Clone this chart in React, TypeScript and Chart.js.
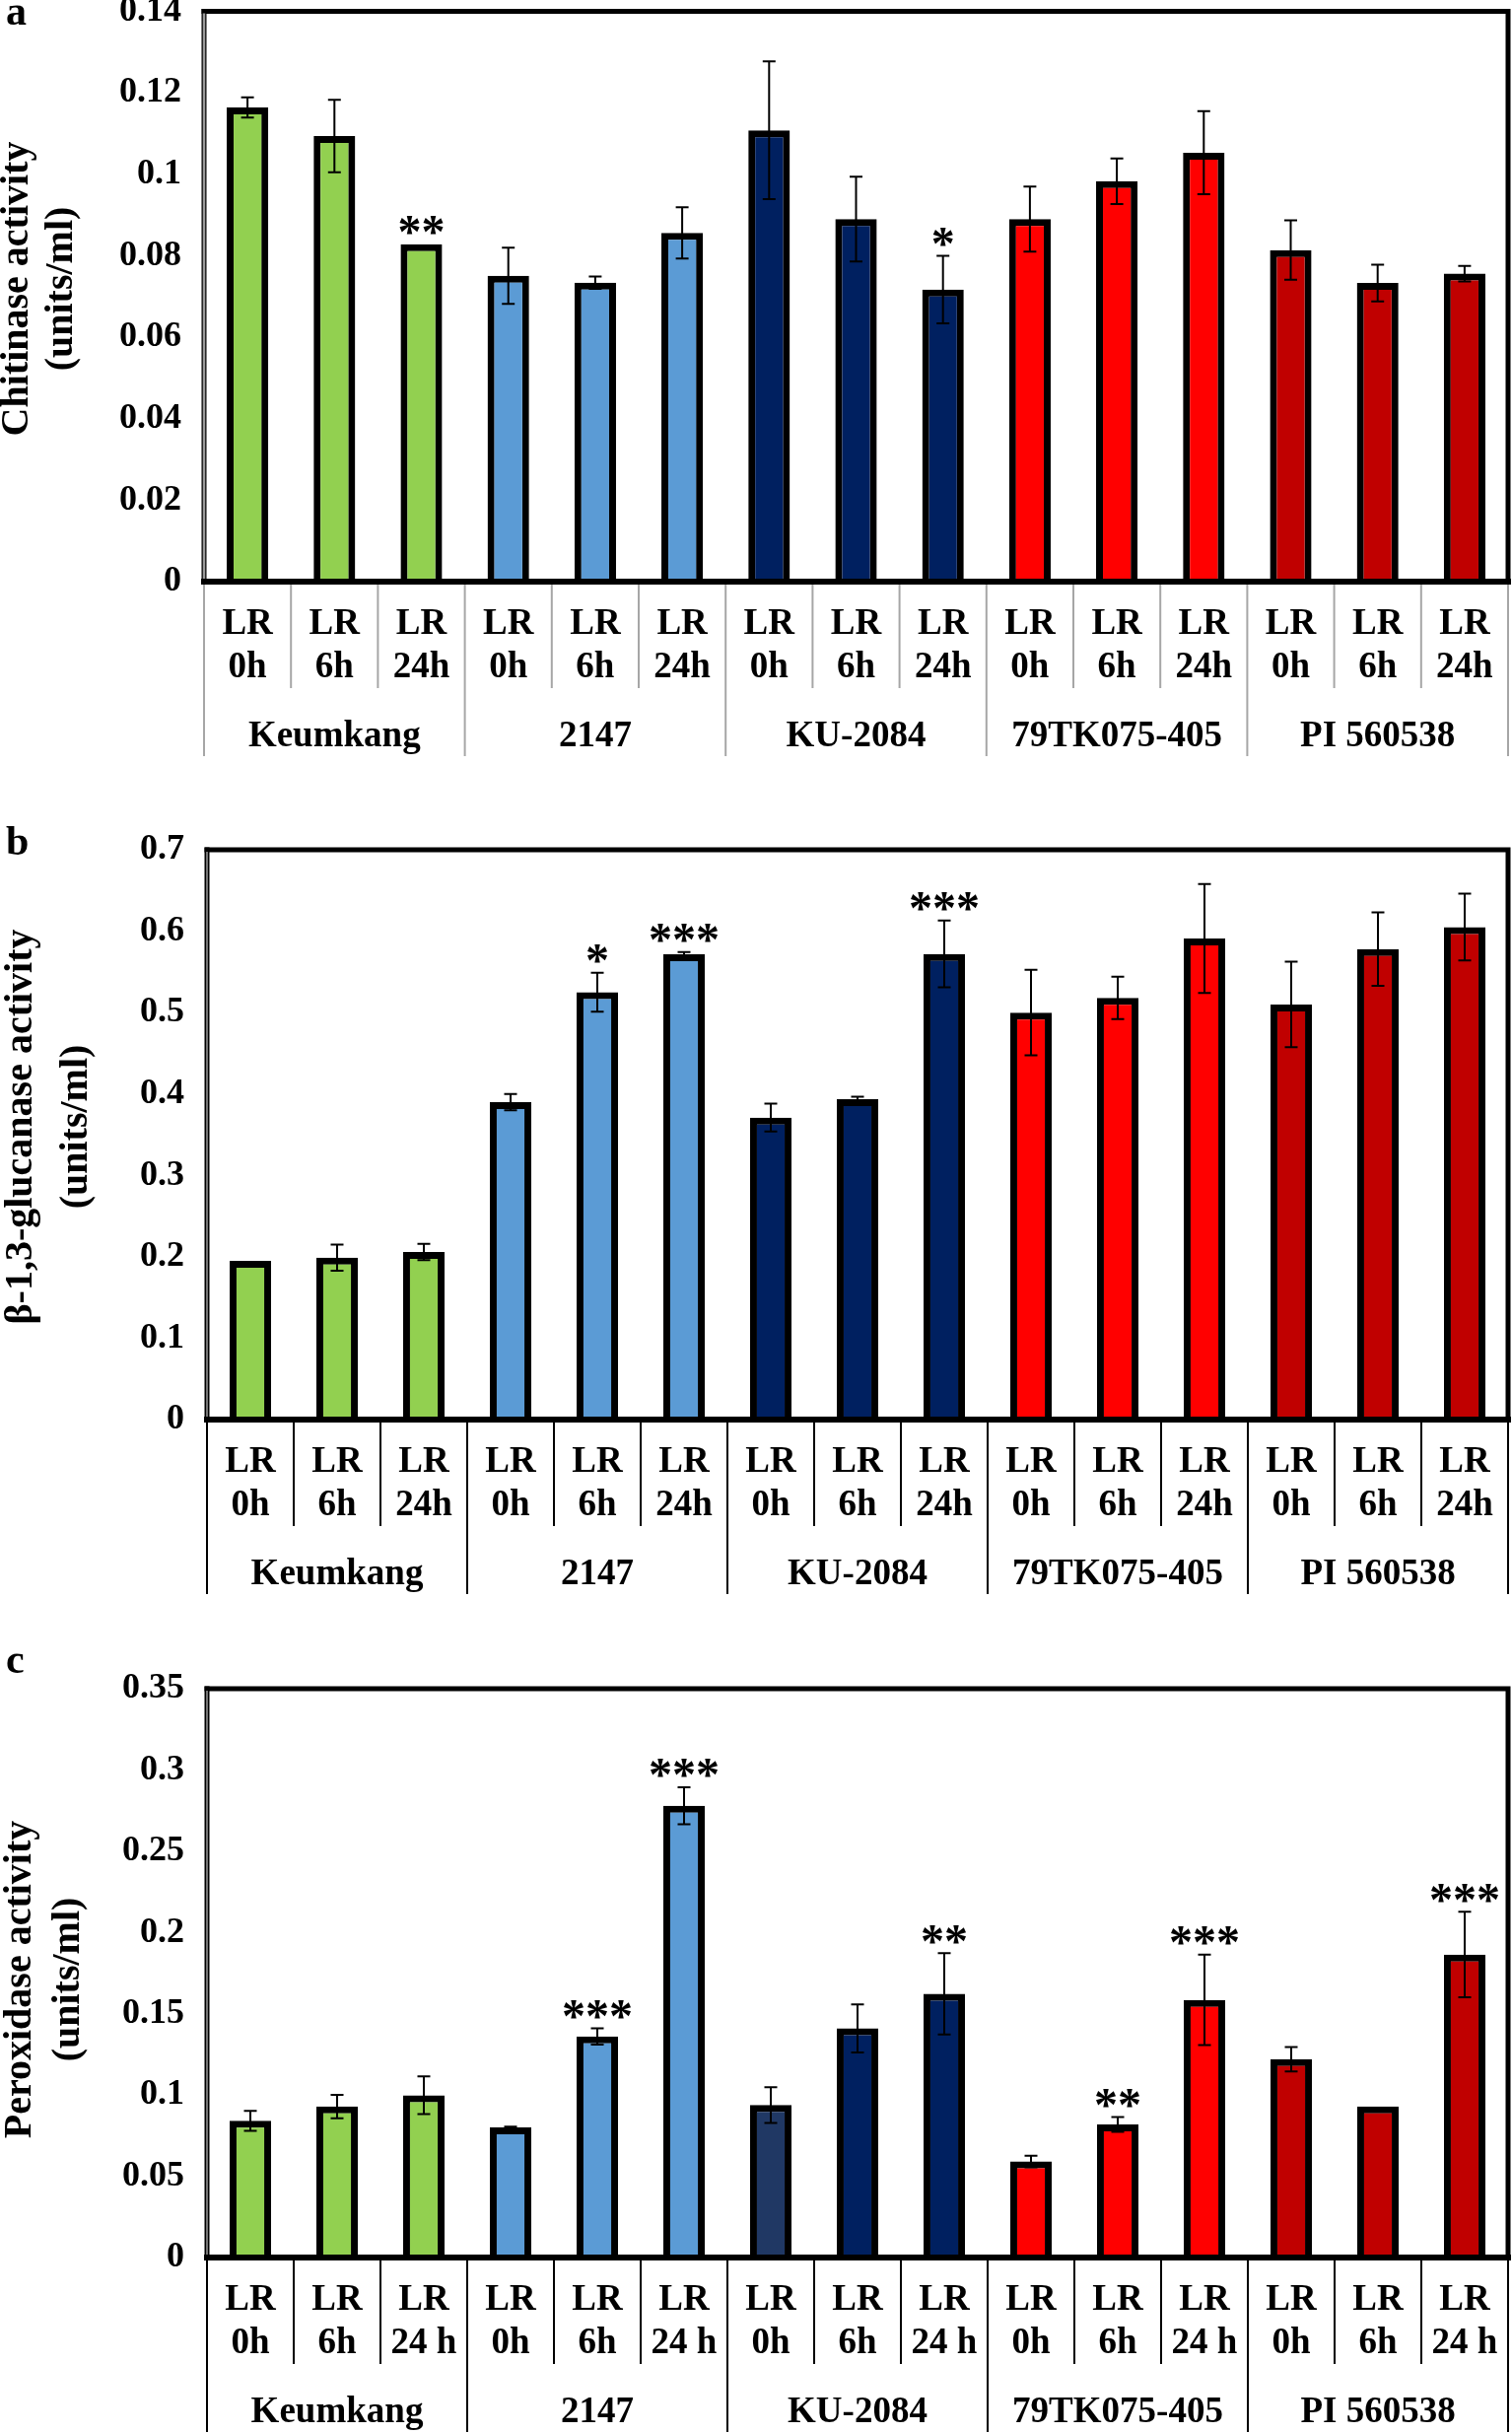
import React, { useEffect, useRef } from 'react';
import { Chart, registerables } from 'chart.js';

Chart.register(...registerables);

// ---------- data ----------
const groups = ['Keumkang', '2147', 'KU-2084', '79TK075-405', 'PI 560538'];
const timesAB = ['0h', '6h', '24h'];
const timesC = ['0h', '6h', '24 h'];
const groupColors = ['#92D050', '#5B9BD5', '#002060', '#FF0000', '#C00000'];

const chitinaseTicks = [0, 0.02, 0.04, 0.06, 0.08, 0.1, 0.12, 0.14];
const chitinaseMeans = [0.1164, 0.1094, 0.0828, 0.0751, 0.0734, 0.0856, 0.1108, 0.089, 0.0717, 0.089, 0.0983, 0.1053, 0.0814, 0.0733, 0.0756];
const chitinaseErrors = [0.0025, 0.0089, 0, 0.0069, 0.0015, 0.0063, 0.0169, 0.0104, 0.0083, 0.008, 0.0056, 0.0102, 0.0073, 0.0045, 0.0019];
const chitinaseStars = ['', '', '**', '', '', '', '', '', '*', '', '', '', '', '', ''];

const glucanaseTicks = [0, 0.1, 0.2, 0.3, 0.4, 0.5, 0.6, 0.7];
const glucanaseMeans = [0.195, 0.199, 0.206, 0.39, 0.525, 0.5715, 0.371, 0.3935, 0.572, 0.5, 0.518, 0.591, 0.51, 0.578, 0.605];
const glucanaseErrors = [0, 0.016, 0.01, 0.01, 0.024, 0.003, 0.017, 0.003, 0.041, 0.0525, 0.026, 0.067, 0.0525, 0.045, 0.041];
const glucanaseStars = ['', '', '', '', '*', '***', '', '', '***', '', '', '', '', '', ''];

const peroxidaseTicks = [0, 0.05, 0.1, 0.15, 0.2, 0.25, 0.3, 0.35];
const peroxidaseMeans = [0.0841, 0.0929, 0.0998, 0.08, 0.136, 0.278, 0.0938, 0.141, 0.1623, 0.0591, 0.0819, 0.1585, 0.122, 0.0929, 0.1864];
const peroxidaseErrors = [0.0062, 0.0072, 0.0116, 0.0005, 0.005, 0.0114, 0.011, 0.0148, 0.025, 0.0036, 0.0045, 0.0278, 0.0075, 0, 0.0263];
const peroxidaseStars = ['', '', '', '', '***', '***', '', '', '**', '', '**', '***', '', '', '***'];

const FONT = '"Liberation Serif", "Times New Roman", serif';

type PanelCfg = {
  letter: string;
  titleLines: string[];
  times: string[];
  ticks: number[];
  means: number[];
  errors: number[];
  stars: string[];
  colors: string[];
  top: number;
  height: number;
  area: { l: number; t: number; r: number; b: number };
  titleX: number[];
  titleY: number;
  letterBase: number;
  sepColor: string;
  leftInner: string;
  leftInnerW: number;
};

const colorsFor = (override?: { [k: number]: string }) => {
  const out: string[] = [];
  groupColors.forEach((c) => out.push(c, c, c));
  if (override) Object.keys(override).forEach((k) => (out[+k] = override[+k]));
  return out;
};

const panels: PanelCfg[] = [
  {
    letter: 'a',
    titleLines: ['Chitinase activity', '(units/ml)'],
    times: timesAB,
    ticks: chitinaseTicks,
    means: chitinaseMeans,
    errors: chitinaseErrors,
    stars: chitinaseStars,
    colors: colorsFor(),
    top: 0,
    height: 790,
    area: { l: 207, t: 11.5, r: 1530, b: 590 },
    titleX: [18, 63],
    titleY: 293,
    letterBase: 25,
    sepColor: '#a6a6a6',
    leftInner: '#9a9a9a',
    leftInnerW: 2.5,
  },
  {
    letter: 'b',
    titleLines: ['β-1,3-glucanase activity', '(units/ml)'],
    times: timesAB,
    ticks: glucanaseTicks,
    means: glucanaseMeans,
    errors: glucanaseErrors,
    stars: glucanaseStars,
    colors: colorsFor(),
    top: 800,
    height: 830,
    area: { l: 210, t: 62, r: 1530, b: 640 },
    titleX: [22, 78],
    titleY: 343,
    letterBase: 67,
    sepColor: '#000000',
    leftInner: '#9a9a9a',
    leftInnerW: 1.5,
  },
  {
    letter: 'c',
    titleLines: ['Peroxidase activity', '(units/ml)'],
    times: timesC,
    ticks: peroxidaseTicks,
    means: peroxidaseMeans,
    errors: peroxidaseErrors,
    stars: peroxidaseStars,
    colors: colorsFor({ 6: '#203864' }),
    top: 1640,
    height: 828,
    area: { l: 210, t: 73, r: 1530, b: 650 },
    titleX: [21, 70],
    titleY: 368,
    letterBase: 57,
    sepColor: '#000000',
    leftInner: '#9a9a9a',
    leftInnerW: 1.5,
  },
];

const W = 1534;

function makeDecor(cfg: PanelCfg) {
  return {
    id: 'decor_' + cfg.letter,
    afterDatasetsDraw(chart: any) {
      const ctx: CanvasRenderingContext2D = chart.ctx;
      const { left, right, top, bottom } = chart.chartArea;
      const ys = chart.scales.y;
      const meta = chart.getDatasetMeta(0);
      ctx.save();
      // frame
      ctx.strokeStyle = '#000';
      ctx.lineCap = 'square';
      ctx.lineWidth = 5;
      ctx.beginPath();
      ctx.moveTo(left, top);
      ctx.lineTo(right, top);
      ctx.lineTo(right, bottom);
      ctx.stroke();
      ctx.lineWidth = 5;
      ctx.beginPath();
      ctx.moveTo(left, top);
      ctx.lineTo(left, bottom);
      ctx.stroke();
      ctx.strokeStyle = cfg.leftInner;
      ctx.lineWidth = cfg.leftInnerW;
      ctx.lineCap = 'butt';
      ctx.beginPath();
      ctx.moveTo(left, top + 2);
      ctx.lineTo(left, bottom - 2);
      ctx.stroke();
      ctx.strokeStyle = '#000';
      ctx.lineWidth = 6;
      ctx.lineCap = 'square';
      ctx.beginPath();
      ctx.moveTo(left, bottom);
      ctx.lineTo(right, bottom);
      ctx.stroke();

      // error bars
      ctx.lineCap = 'butt';
      ctx.lineWidth = 2;
      ctx.strokeStyle = '#000';
      const tops: number[] = [];
      cfg.means.forEach((m, i) => {
        const e = cfg.errors[i];
        const bx = meta.data[i].x;
        const yt = ys.getPixelForValue(m + e);
        const yb = ys.getPixelForValue(m - e);
        tops.push(yt);
        if (!e) return;
        ctx.beginPath();
        ctx.moveTo(bx, yt);
        ctx.lineTo(bx, yb);
        ctx.moveTo(bx - 6.5, yt);
        ctx.lineTo(bx + 6.5, yt);
        ctx.moveTo(bx - 6.5, yb);
        ctx.lineTo(bx + 6.5, yb);
        ctx.stroke();
      });

      // significance stars
      ctx.fillStyle = '#000';
      ctx.font = `bold 48px ${FONT}`;
      ctx.textAlign = 'center';
      ctx.textBaseline = 'alphabetic';
      cfg.stars.forEach((s, i) => {
        if (!s) return;
        const bx = meta.data[i].x;
        const mt = ctx.measureText(s);
        const cy = tops[i] - 19;
        const base = cy + (mt.actualBoundingBoxAscent - mt.actualBoundingBoxDescent) / 2;
        ctx.fillText(s, bx, base);
      });

      // category separators
      const xs = chart.scales.x;
      const n = cfg.means.length;
      const catW = (right - left) / n;
      ctx.strokeStyle = cfg.sepColor;
      ctx.lineWidth = 2;
      for (let i = 0; i <= n; i++) {
        const sx = left + i * catW;
        const endY = i % 3 === 0 ? bottom + 177 : bottom + 108;
        ctx.beginPath();
        ctx.moveTo(sx, bottom + 3);
        ctx.lineTo(sx, endY);
        ctx.stroke();
      }

      // group labels
      ctx.font = `bold 37px ${FONT}`;
      ctx.textBaseline = 'middle';
      ctx.textAlign = 'center';
      groups.forEach((g, gi) => {
        const cx = (xs.getPixelForValue(gi * 3) + xs.getPixelForValue(gi * 3 + 2)) / 2;
        ctx.fillText(g, cx, bottom + 157);
      });

      // y axis title
      ctx.font = `bold 40px ${FONT}`;
      cfg.titleLines.forEach((line, li) => {
        ctx.save();
        ctx.translate(cfg.titleX[li], cfg.titleY);
        ctx.rotate(-Math.PI / 2);
        ctx.textAlign = 'center';
        ctx.textBaseline = 'middle';
        ctx.fillText(line, 0, 0);
        ctx.restore();
      });

      // panel letter
      ctx.font = `bold 42px ${FONT}`;
      ctx.textAlign = 'left';
      ctx.textBaseline = 'alphabetic';
      ctx.fillText(cfg.letter, 6, cfg.letterBase);
      ctx.restore();
    },
  };
}

function Panel({ cfg }: { cfg: PanelCfg }) {
  const ref = useRef<HTMLCanvasElement>(null);
  useEffect(() => {
    const canvas = ref.current;
    if (!canvas) return;
    const labels: string[][] = [];
    groups.forEach(() => cfg.times.forEach((t) => labels.push(['LR', t])));
    const { l, t, r, b } = cfg.area;
    const chart = new Chart(canvas, {
      type: 'bar',
      data: {
        labels,
        datasets: [
          {
            data: cfg.means,
            backgroundColor: cfg.colors,
            borderColor: '#000',
            borderWidth: 7,
            borderSkipped: 'bottom',
            barPercentage: 0.478,
            categoryPercentage: 1,
          },
        ],
      },
      options: {
        animation: false,
        responsive: false,
        maintainAspectRatio: false,
        devicePixelRatio: 1,
        layout: { padding: { top: t, left: 0, right: W - r, bottom: 0 } },
        plugins: { legend: { display: false }, tooltip: { enabled: false } },
        scales: {
          x: {
            grid: { display: false, drawTicks: false },
            border: { display: false },
            ticks: {
              color: '#000',
              font: { family: FONT, size: 37, weight: 'bold', lineHeight: 1.18 },
              padding: 22,
              maxRotation: 0,
              minRotation: 0,
              autoSkip: false,
            },
            afterFit: (s: any) => {
              s.height = cfg.height - b;
              s.paddingLeft = 0;
              s.paddingRight = 0;
            },
          },
          y: {
            min: cfg.ticks[0],
            max: cfg.ticks[cfg.ticks.length - 1],
            grid: { display: false, drawTicks: false },
            border: { display: false },
            afterBuildTicks: (s: any) => {
              s.ticks = cfg.ticks.map((v) => ({ value: v }));
            },
            ticks: {
              color: '#000',
              font: { family: FONT, size: 36, weight: 'bold' },
              padding: 23,
              callback: (v: any) => String(v),
            },
            afterFit: (s: any) => {
              s.width = l;
              s.paddingTop = 0;
              s.paddingBottom = 0;
            },
          },
        },
      } as any,
      plugins: [makeDecor(cfg)],
    });
    return () => chart.destroy();
  }, []);
  return (
    <canvas
      ref={ref}
      width={W}
      height={cfg.height}
      style={{ position: 'absolute', left: 0, top: cfg.top, width: W, height: cfg.height }}
    />
  );
}

export default function App() {
  return (
    <div style={{ position: 'absolute', left: 0, top: 0, width: W, height: 2468, background: '#fff' }}>
      {panels.map((p) => (
        <Panel key={p.letter} cfg={p} />
      ))}
    </div>
  );
}
